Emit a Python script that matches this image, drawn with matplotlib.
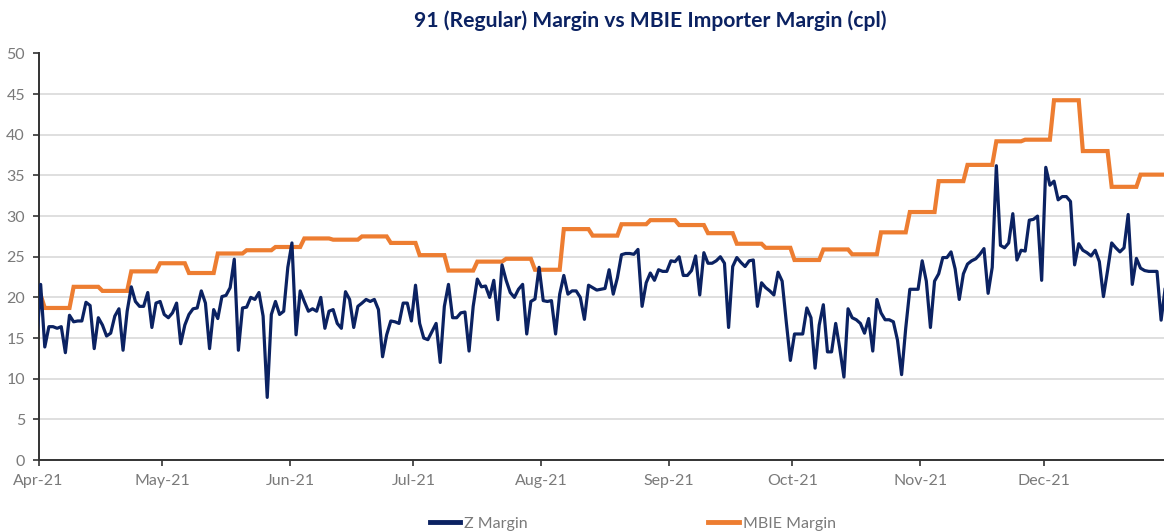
import numpy as np
import pandas as pd
import matplotlib
matplotlib.use("Agg")
import matplotlib.pyplot as plt
import matplotlib.dates as mdates

# ---------------- data ----------------
title = "91 (Regular) Margin vs MBIE Importer Margin (cpl)"
series_names = ["Z Margin", "MBIE Margin"]
start_date = "2021-03-31"
end_date = "2021-12-30"

z_mar31 = [14.0]
z_apr = [21.6, 13.9, 16.4, 16.4, 16.2, 16.4, 13.2, 17.8, 17.0, 17.1,
         17.1, 19.4, 19.0, 13.7, 17.5, 16.6, 15.25, 15.6, 17.7, 18.6,
         13.5, 18.3, 21.3, 19.5, 18.9, 18.9, 20.6, 16.3, 19.3, 19.5]
z_may = [17.9, 17.5, 18.1, 19.3, 14.3, 16.6, 17.9, 18.6, 18.7, 20.8,
         19.3, 13.7, 18.5, 17.4, 20.1, 20.25, 21.2, 24.7, 13.5, 18.7,
         18.8, 20.0, 19.75, 20.6, 17.7, 7.7, 17.9, 19.5, 17.9, 18.3,
         23.7]
z_jun = [26.7, 15.4, 20.8, 19.5, 18.3, 18.6, 18.3, 20.0, 16.2, 18.3,
         18.5, 16.8, 16.2, 20.7, 19.75, 16.3, 18.9, 19.3, 19.75, 19.5,
         19.75, 18.5, 12.7, 15.4, 17.1, 17.0, 16.8, 19.3, 19.3, 17.1]
z_jul = [21.5, 16.8, 15.0, 14.8, 15.8, 16.8, 12.0, 18.9, 21.6, 17.5,
         17.5, 18.1, 18.2, 13.4, 18.9, 22.25, 21.3, 21.4, 20.0, 22.1,
         17.25, 24.0, 22.1, 20.6, 20.0, 21.0, 21.6, 15.5, 19.5, 19.8,
         23.7]
z_aug = [19.6, 19.5, 19.6, 15.5, 20.4, 22.7, 20.4, 20.8, 20.8, 20.0,
         17.3, 21.5, 21.2, 20.9, 21.0, 21.1, 23.4, 20.4, 22.4, 25.25,
         25.4, 25.4, 25.3, 25.9, 18.9, 21.8, 23.0, 22.1, 23.4, 23.2,
         23.2]
z_sep = [24.5, 24.4, 25.0, 22.7, 22.7, 23.3, 25.1, 20.3, 25.5, 24.2,
         24.2, 24.5, 25.0, 24.2, 16.3, 23.8, 24.9, 24.3, 23.8, 24.5,
         24.6, 18.9, 21.8, 21.2, 20.8, 20.3, 23.1, 22.0, 17.0, 12.25]
z_oct = [15.5, 15.5, 15.5, 18.7, 17.5, 11.3, 16.6, 19.1, 13.3, 13.3,
         16.8, 13.7, 10.2, 18.6, 17.5, 17.25, 16.8, 15.6, 17.4, 13.4,
         19.75, 18.1, 17.25, 17.25, 17.0, 14.75, 10.5, 16.2, 21.0, 21.0,
         21.0]
z_nov = [24.5, 22.0, 16.3, 22.0, 22.9, 24.9, 24.9, 25.6, 23.5, 19.75,
         22.9, 24.1, 24.5, 24.75, 25.3, 26.0, 20.5, 23.7, 36.2, 26.4,
         26.1, 26.7, 30.3, 24.6, 25.8, 25.7, 29.5, 29.6, 30.0, 22.1]
z_dec = [36.0, 33.8, 34.3, 32.0, 32.4, 32.4, 31.8, 24.0, 26.6, 25.8,
         25.5, 25.1, 25.8, 24.4, 20.1, 23.3, 26.7, 26.1, 25.6, 26.1,
         30.2, 21.6, 24.8, 23.6, 23.3, 23.2, 23.2, 23.2, 17.2, 21.2]

# MBIE margin: first two daily values, then one value per week (7 days each)
mbie_first_days = [20.3, 20.3]
mbie_weekly = [18.7, 21.3, 20.8, 23.2, 24.2, 23.0, 25.4, 25.8, 26.2, 27.25,
               27.1, 27.5, 26.7, 25.2, 23.3, 24.4, 24.75, 23.4, 28.4, 27.6,
               29.0, 29.5, 28.9, 27.9, 26.6, 26.1, 24.6, 25.9, 25.3, 28.0,
               30.5, 34.3, 36.3, 39.2, 39.4, 44.25, 38.0, 33.6, 35.1]

y_ticks = [0, 5, 10, 15, 20, 25, 30, 35, 40, 45, 50]

# ---------------- build ----------------
dates = pd.date_range(start_date, end_date, freq="D")
z_vals = np.array(z_mar31 + z_apr + z_may + z_jun + z_jul + z_aug +
                  z_sep + z_oct + z_nov + z_dec)
mbie_vals = np.concatenate([mbie_first_days, np.repeat(mbie_weekly, 7)])
xpos = dates + pd.Timedelta(hours=12)

NAVY = "#0B2262"
ORANGE = "#ED7D31"
GREY = "#7a7a7a"

plt.rcParams["font.family"] = ["Lato", "DejaVu Sans"]

fig = plt.figure(figsize=(11.64, 5.31), dpi=100)
W, H = 1164, 531
ax = fig.add_axes([38.6 / W, (H - 460) / H, 1 - 38.6 / W, (460 - 53.5) / H])

ax.plot(xpos, mbie_vals, color=ORANGE, lw=3.0, label=series_names[1], zorder=3,
        solid_joinstyle="miter")
ax.plot(xpos, z_vals, color=NAVY, lw=2.3, label=series_names[0], zorder=4)

x0 = pd.Timestamp("2021-04-01")
ax.set_xlim(x0, x0 + pd.Timedelta(days=273.2))
ax.set_ylim(0, 50)
ax.set_yticks(y_ticks)
ax.yaxis.grid(True, color="#d9d9d9", lw=1.2)
ax.set_axisbelow(True)

ax.xaxis.set_major_locator(mdates.MonthLocator())
ax.xaxis.set_major_formatter(mdates.DateFormatter("%b-%y"))

for s in ["top", "right"]:
    ax.spines[s].set_visible(False)
for s in ["left", "bottom"]:
    ax.spines[s].set_color("#333333")
    ax.spines[s].set_linewidth(1.4)

ax.tick_params(axis="y", length=4.1, width=1.2, color="#333333", pad=5.7,
               labelsize=11.5, labelcolor=GREY)
ax.tick_params(axis="x", length=4.0, width=1.2, color="#333333", pad=6,
               labelsize=11.5, labelcolor=GREY)

fig.text(650 / W, 1 - 21 / H, title, ha="center", va="center",
         fontsize=15.2, fontweight="bold", color=NAVY)

handles, labels = ax.get_legend_handles_labels()
order = [1, 0]
leg = fig.legend([handles[i] for i in order], [labels[i] for i in order],
                 loc="center left", bbox_to_anchor=(430 / W, 1 - 524 / H),
                 ncol=2, frameon=False, fontsize=11.5, handlelength=1.9,
                 handletextpad=0.25, columnspacing=11.3, borderpad=0,
                 borderaxespad=0)
for t in leg.get_texts():
    t.set_color(GREY)
for lh in leg.get_lines():
    lh.set_linewidth(3.5)

fig.savefig("out.png", dpi=100)
